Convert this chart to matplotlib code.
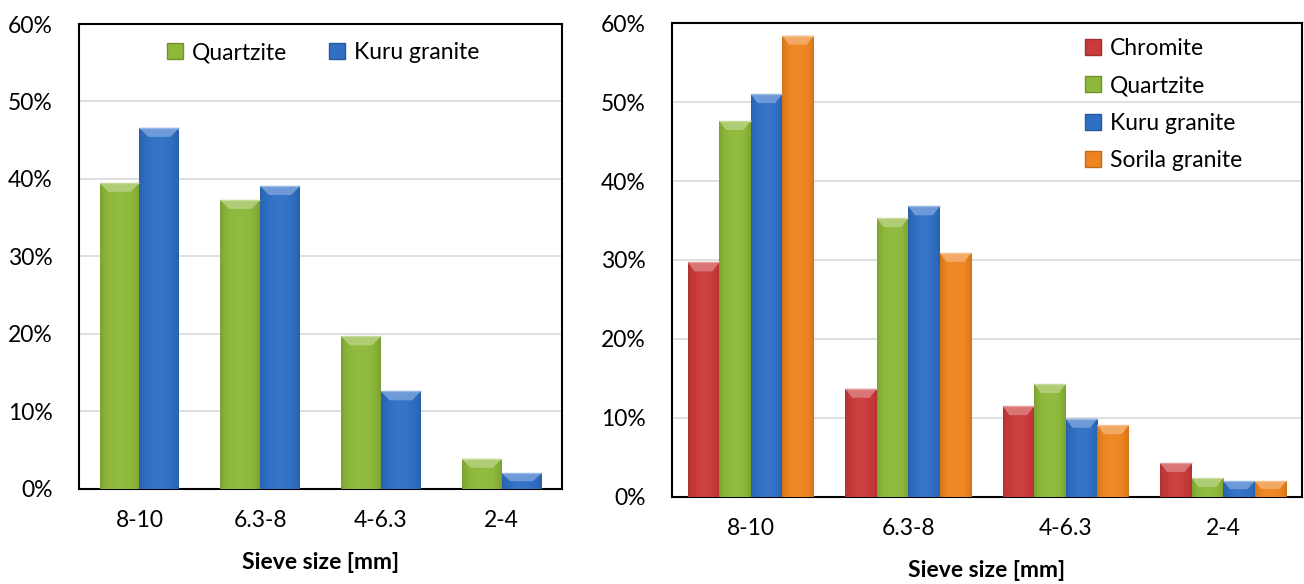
import numpy as np
import matplotlib
matplotlib.use("Agg")
import matplotlib.pyplot as plt
from matplotlib.patches import Polygon, Patch
from matplotlib.colors import to_rgb
from matplotlib.ticker import FuncFormatter

plt.rcParams['font.family'] = ['Lato', 'DejaVu Sans']

sieve_sizes = ["8-10", "6.3-8", "4-6.3", "2-4"]

# left panel
left_quartzite = [39.5, 37.3, 19.7, 3.9]
left_kuru = [46.6, 39.1, 12.6, 2.0]

# right panel
right_chromite = [29.7, 13.7, 11.5, 4.3]
right_quartzite = [47.6, 35.3, 14.3, 2.4]
right_kuru = [51.0, 36.8, 9.9, 2.0]
right_sorila = [58.4, 30.9, 9.1, 2.0]

colors = {
    "Chromite": "#C93A3A",
    "Quartzite": "#8DB83A",
    "Kuru granite": "#2F6FC4",
    "Sorila granite": "#EE8420",
}

FS = 16.5


def shade(color, f):
    c = np.array(to_rgb(color))
    if f >= 0:
        return tuple(c + (1 - c) * f)
    return tuple(c * (1 + f))


def bevel_bars(ax, bars, color):
    # horizontal shading across each bar plus a light bevel on top
    xs = np.linspace(0, 1, 64)
    prof = 0.18 * np.sin(np.pi * xs) ** 0.6 - 0.14
    grad = np.array([[shade(color, p) for p in prof]])
    fig = ax.figure
    px_to_data = (ax.get_ylim()[1] - ax.get_ylim()[0]) / (ax.get_position().height * fig.get_figheight() * fig.dpi)
    for rect in bars:
        x0, w, h = rect.get_x(), rect.get_width(), rect.get_height()
        im = ax.imshow(grad, extent=(x0, x0 + w, 0, h), aspect='auto',
                       interpolation='bilinear', zorder=3)
        im.set_clip_path(rect)
        dy = min(9 * px_to_data, h * 0.5)
        dx = w * 0.22
        top = Polygon([(x0, h), (x0 + w, h), (x0 + w - dx, h - dy), (x0 + dx, h - dy)],
                      closed=True, facecolor=shade(color, 0.3), edgecolor='none', zorder=4)
        ax.add_patch(top)
        ax.plot([x0, x0 + w], [h, h], color=shade(color, 0.5), lw=1, zorder=5,
                solid_capstyle='butt')


def style_axis(ax):
    ax.set_ylim(0, 60)
    ax.set_xlim(-0.5, 3.5)
    ax.set_yticks(range(0, 61, 10))
    ax.yaxis.set_major_formatter(FuncFormatter(lambda v, p: f"{v:.0f}%"))
    ax.set_xticks(range(len(sieve_sizes)))
    ax.set_xticklabels(sieve_sizes)
    ax.tick_params(axis='both', length=0, labelsize=FS)
    ax.tick_params(axis='x', pad=15)
    ax.tick_params(axis='y', pad=19)
    ax.grid(axis='y', color='#D9D9D9', lw=1.2, zorder=0)
    ax.set_axisbelow(True)
    for s in ax.spines.values():
        s.set_linewidth(1.5)
    ax.set_xlabel("Sieve size [mm]", fontsize=FS, fontweight='bold', labelpad=15)


def grouped(ax, series, width):
    n = len(series)
    x = np.arange(len(sieve_sizes))
    for i, (name, vals) in enumerate(series):
        offs = (i - (n - 1) / 2) * width
        bars = ax.bar(x + offs, vals, width, color=colors[name], zorder=2, label=name)
        bevel_bars(ax, bars, colors[name])


fig = plt.figure(figsize=(13.04, 5.84), dpi=100)
ax1 = fig.add_axes([0.0606, 0.1627, 0.3704, 0.7962])
ax2 = fig.add_axes([0.5153, 0.149, 0.4831, 0.8116])

for ax in (ax1, ax2):
    style_axis(ax)

grouped(ax1, [("Quartzite", left_quartzite), ("Kuru granite", left_kuru)], 0.33)
grouped(ax2, [("Chromite", right_chromite), ("Quartzite", right_quartzite),
              ("Kuru granite", right_kuru), ("Sorila granite", right_sorila)], 0.2)

h1 = [Patch(facecolor=colors[n], edgecolor=shade(colors[n], -0.2)) for n in ["Quartzite", "Kuru granite"]]
ax1.legend(h1, ["Quartzite", "Kuru granite"], loc='upper center', bbox_to_anchor=(0.505, 1.005),
           ncol=2, frameon=False, fontsize=FS, handlelength=0.7, handleheight=0.7,
           handletextpad=0.4, columnspacing=1.8)

names2 = ["Chromite", "Quartzite", "Kuru granite", "Sorila granite"]
h2 = [Patch(facecolor=colors[n], edgecolor=shade(colors[n], -0.2)) for n in names2]
ax2.legend(h2, names2, loc='upper left', bbox_to_anchor=(0.623, 1.012), frameon=False,
           fontsize=FS, handlelength=0.7, handleheight=0.7, handletextpad=0.4,
           labelspacing=0.72)

fig.savefig("out.png", dpi=100)
